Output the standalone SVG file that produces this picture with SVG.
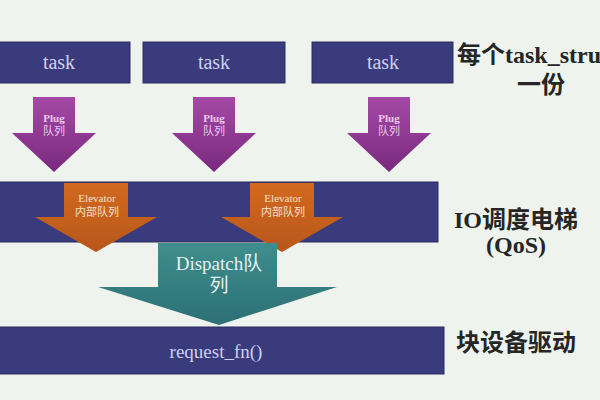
<svg xmlns="http://www.w3.org/2000/svg" width="600" height="400" viewBox="0 0 600 400">
<defs>
<linearGradient id="gPlug" x1="0" y1="0" x2="0" y2="1">
<stop offset="0" stop-color="#a449a6"/><stop offset="1" stop-color="#7a2a7e"/>
</linearGradient>
<linearGradient id="gElev" x1="0" y1="0" x2="0" y2="1">
<stop offset="0" stop-color="#d2691f"/><stop offset="1" stop-color="#b8561a"/>
</linearGradient>
<linearGradient id="gDisp" x1="0" y1="0" x2="0" y2="1">
<stop offset="0" stop-color="#3f8e8e"/><stop offset="1" stop-color="#2c6f74"/>
</linearGradient>
<style>
.bar{fill:#393b7c;stroke:#2c2d5e;stroke-width:1}
.serif{font-family:"Liberation Serif","Times New Roman","DejaVu Serif","Noto Sans CJK SC",serif}
.lbl{fill:#cfd0f2;text-anchor:middle}
.small{text-anchor:middle}
.plug{font-size:11px;fill:#f0c8f0}
.elev{font-size:11px;fill:#f6e0cc}
.side{font-weight:bold;fill:#262626;font-size:24px}
</style>
</defs>
<rect width="600" height="400" fill="#eef3ee"/>

<g id="task1"><rect class="bar" x="-2" y="42" width="132" height="41"/><text class="serif lbl" x="59" y="69" font-size="20">task</text></g>
<g id="task2"><rect class="bar" x="143" y="42" width="142" height="41"/><text class="serif lbl" x="214" y="69" font-size="20">task</text></g>
<g id="task3"><rect class="bar" x="312" y="42" width="141" height="41"/><text class="serif lbl" x="383" y="69" font-size="20">task</text></g>

<g id="io-scheduler"><rect class="bar" x="-2" y="182" width="440" height="60"/></g>
<g id="request-fn"><rect class="bar" x="-2" y="327" width="446" height="47"/><text class="serif lbl" x="216" y="358" font-size="19">request_fn()</text></g>

<g id="connectors">
<g id="plug1"><polygon points="33,97 75,97 75,133 96,133 54,172 12,133 33,133" fill="url(#gPlug)"/>
<text class="serif small plug" x="54" y="122" font-weight="bold">Plug</text><text class="serif small plug" x="54" y="135">队列</text></g>
<g id="plug2"><polygon points="193,97 235,97 235,133 256,133 214,172 172,133 193,133" fill="url(#gPlug)"/>
<text class="serif small plug" x="214" y="122" font-weight="bold">Plug</text><text class="serif small plug" x="214" y="135">队列</text></g>
<g id="plug3"><polygon points="368,97 410,97 410,133 431,133 389,172 347,133 368,133" fill="url(#gPlug)"/>
<text class="serif small plug" x="389" y="122" font-weight="bold">Plug</text><text class="serif small plug" x="389" y="135">队列</text></g>

<g id="elevator1"><polygon points="64,183 128,183 128,217 157,217 96,252 35,217 64,217" fill="url(#gElev)"/>
<text class="serif small elev" x="97" y="202">Elevator</text><text class="serif small elev" x="97" y="216">内部队列</text></g>
<g id="elevator2"><polygon points="250,183 314,183 314,217 343,217 282,252 221,217 250,217" fill="url(#gElev)"/>
<text class="serif small elev" x="283" y="202">Elevator</text><text class="serif small elev" x="283" y="216">内部队列</text></g>

<g id="dispatch"><polygon points="158,243 277,243 277,287 337,287 219,325 98,287 158,287" fill="url(#gDisp)"/>
<text class="serif" x="219" y="270" font-size="19" fill="#e6f2f2" text-anchor="middle">Dispatch队</text>
<text class="serif" x="219" y="292" font-size="19" fill="#e6f2f2" text-anchor="middle">列</text></g>
</g>

<g id="labels">
<text class="serif side" x="457" y="63">每个task_stru</text>
<text class="serif side" x="541" y="93" text-anchor="middle">一份</text>
<text class="serif side" x="516" y="228" text-anchor="middle">IO调度电梯</text>
<text class="serif side" x="516" y="253" text-anchor="middle">(QoS)</text>
<text class="serif side" x="516" y="351" text-anchor="middle">块设备驱动</text>
</g>
</svg>
